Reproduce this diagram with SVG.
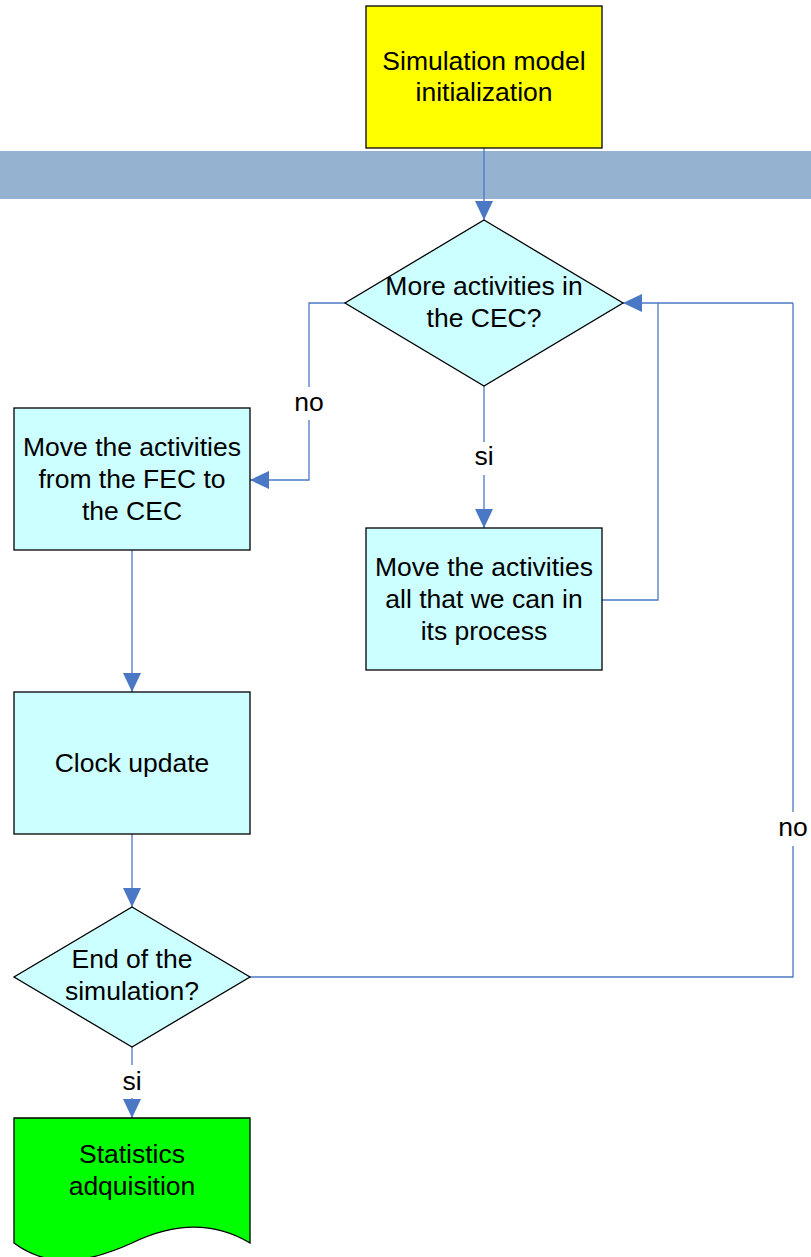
<svg xmlns="http://www.w3.org/2000/svg" width="811" height="1257" viewBox="0 0 811 1257">
<style>
.box{stroke:#000;stroke-width:1.3}
.proc{fill:#ccffff}
.t{font-family:"Liberation Sans",Arial,sans-serif;font-size:26.5px;fill:#000;text-anchor:middle}
.c{fill:none;stroke:#4a78c4;stroke-width:1.3}
</style>
<defs>
<marker id="ah" markerUnits="userSpaceOnUse" markerWidth="20" markerHeight="20" refX="19" refY="9" orient="auto">
<path d="M0,0 L19,9 L0,18 Z" fill="#4a78c4"/>
</marker>
</defs>
<rect x="0" y="151" width="811" height="48" fill="#95b3d1"/>
<g id="connectors">
<path class="c" d="M484,148 V220" marker-end="url(#ah)"/>
<path class="c" d="M345,303 H309 V387"/>
<path class="c" d="M309,420 V480 H250" marker-end="url(#ah)"/>
<path class="c" d="M484,386 V442"/>
<path class="c" d="M484,475 V528" marker-end="url(#ah)"/>
<path class="c" d="M602,600 H658 V303"/>
<path class="c" d="M793,303 H623" marker-end="url(#ah)"/>
<path class="c" d="M132,550 V692" marker-end="url(#ah)"/>
<path class="c" d="M132,834 V907" marker-end="url(#ah)"/>
<path class="c" d="M250,977 H793 V846"/>
<path class="c" d="M793,812 V303"/>
<path class="c" d="M132,1047 V1065"/>
<path class="c" d="M132,1098 V1118" marker-end="url(#ah)"/>
<text class="t" x="309" y="411">no</text>
<text class="t" x="484" y="465">si</text>
<text class="t" x="793" y="836">no</text>
<text class="t" x="132" y="1090">si</text>
</g>
<g id="init">
<rect class="box" x="366" y="6" width="236" height="142" fill="#ffff00"/>
<text class="t" x="484" y="70">Simulation model</text>
<text class="t" x="484" y="101">initialization</text>
</g>
<g id="more">
<path class="box proc" d="M484,220 L623,303 L484,386 L345,303 Z"/>
<text class="t" x="484" y="295">More activities in</text>
<text class="t" x="484" y="327">the CEC?</text>
</g>
<g id="movefec">
<rect class="box proc" x="14" y="408" width="236" height="142"/>
<text class="t" x="132" y="456">Move the activities</text>
<text class="t" x="132" y="488">from the FEC to</text>
<text class="t" x="132" y="520">the CEC</text>
</g>
<g id="moveproc">
<rect class="box proc" x="366" y="528" width="236" height="142"/>
<text class="t" x="484" y="576">Move the activities</text>
<text class="t" x="484" y="608">all that we can in</text>
<text class="t" x="484" y="640">its process</text>
</g>
<g id="clock">
<rect class="box proc" x="14" y="692" width="236" height="142"/>
<text class="t" x="132" y="772">Clock update</text>
</g>
<g id="end">
<path class="box proc" d="M132,907 L250,977 L132,1047 L14,977 Z"/>
<text class="t" x="132" y="968">End of the</text>
<text class="t" x="132" y="1000">simulation?</text>
</g>
<g id="stats">
<path class="box" fill="#00ff00" d="M14,1118 H250 V1243 C215,1222 175,1222 132,1243 C90,1262 50,1270 14,1243 Z"/>
<text class="t" x="132" y="1163">Statistics</text>
<text class="t" x="132" y="1195">adquisition</text>
</g>
</svg>
